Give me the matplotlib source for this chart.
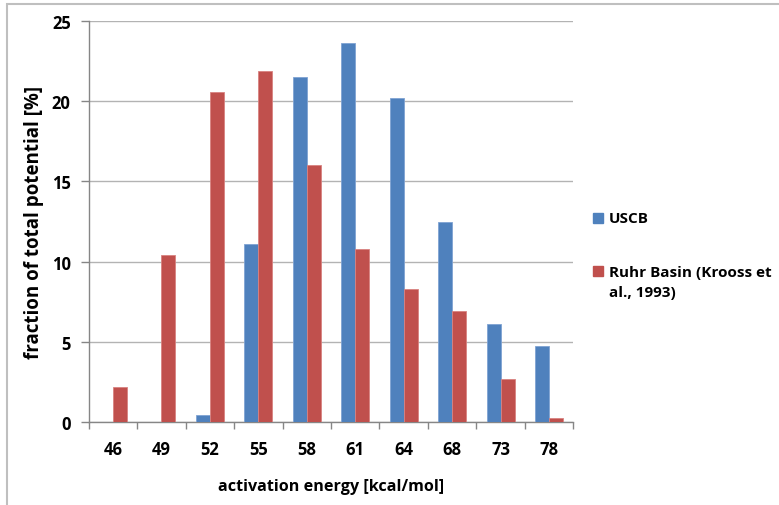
import numpy as np
import matplotlib
matplotlib.use('Agg')
import matplotlib.pyplot as plt
from matplotlib.patches import Rectangle

plt.rcParams['font.family'] = ['Open Sans', 'DejaVu Sans']
plt.rcParams['font.weight'] = 'bold'

energia = ['46', '49', '52', '55', '58', '61', '64', '68', '73', '78']
uscb = [0, 0, 0.45, 11.1, 21.5, 23.6, 20.2, 12.5, 6.1, 4.75]
ruhr = [2.2, 10.4, 20.6, 21.9, 16.0, 10.8, 8.3, 6.95, 2.7, 0.23]

azul = '#4F81BD'
rojo = '#C0504D'

fig = plt.figure(figsize=(7.79, 5.06), dpi=100)
ax = fig.add_axes([0.1139, 0.1640, 0.6221, 0.7925])

x = np.arange(len(energia))
ancho = 0.29
ax.bar(x - ancho / 2, uscb, ancho, color=azul, edgecolor='#7FA3D3', linewidth=0.6, zorder=3)
ax.bar(x + ancho / 2, ruhr, ancho, color=rojo, edgecolor='#D98280', linewidth=0.6, zorder=3)

ax.set_xlim(-0.5, len(energia) - 0.5)
ax.set_ylim(0, 25)
ax.set_yticks(range(0, 26, 5))
ax.yaxis.grid(True, color='#B3B3B3', linewidth=1.0, zorder=0)
ax.set_axisbelow(True)

# ticks on category boundaries, labels in the middle
ax.set_xticks(np.arange(-0.5, len(energia), 1.0))
ax.set_xticklabels([])
ax.set_xticks(x, minor=True)
ax.set_xticklabels(energia, minor=True, fontsize=12, fontweight='bold')
ax.tick_params(axis='x', which='major', length=5, color='#868686', width=1)
ax.tick_params(axis='x', which='minor', length=0, pad=13)
ax.tick_params(axis='y', length=6, color='#868686', width=1, pad=7, labelsize=12)
for t in ax.get_yticklabels():
    t.set_fontweight('bold')

for lado in ['top', 'right']:
    ax.spines[lado].set_visible(False)
for lado in ['left', 'bottom']:
    ax.spines[lado].set_color('#868686')
    ax.spines[lado].set_linewidth(1)

ax.set_ylabel('fraction of total potential [%]', fontsize=13.5, fontweight='bold',
              va='center', ha='center')
ax.yaxis.set_label_coords(-0.113, 0.5)
ax.set_xlabel('activation energy [kcal/mol]', fontsize=11.6, fontweight='bold',
              va='center', ha='center')
ax.xaxis.set_label_coords(0.5, -0.16)

# leyenda
fig.patches.append(Rectangle((593 / 779, 1 - 224 / 506), 10 / 779, 10 / 506,
                             transform=fig.transFigure, color=azul))
fig.text(609 / 779, 1 - 219 / 506, 'USCB', fontsize=11, fontweight='bold', va='center')
fig.patches.append(Rectangle((593 / 779, 1 - 277 / 506), 10 / 779, 10 / 506,
                             transform=fig.transFigure, color=rojo))
fig.text(609 / 779, 1 - 272.5 / 506, 'Ruhr Basin (Krooss et', fontsize=11, fontweight='bold', va='center')
fig.text(609 / 779, 1 - 293.5 / 506, 'al., 1993)', fontsize=11, fontweight='bold', va='center')

# marco del area del grafico
fig.patches.append(Rectangle((7 / 779, -0.1), 1.2, 1.1 - 5 / 506, transform=fig.transFigure,
                             fill=False, edgecolor='#BFBFBF', linewidth=1.5, clip_on=False))

fig.savefig('out.png', dpi=100)
